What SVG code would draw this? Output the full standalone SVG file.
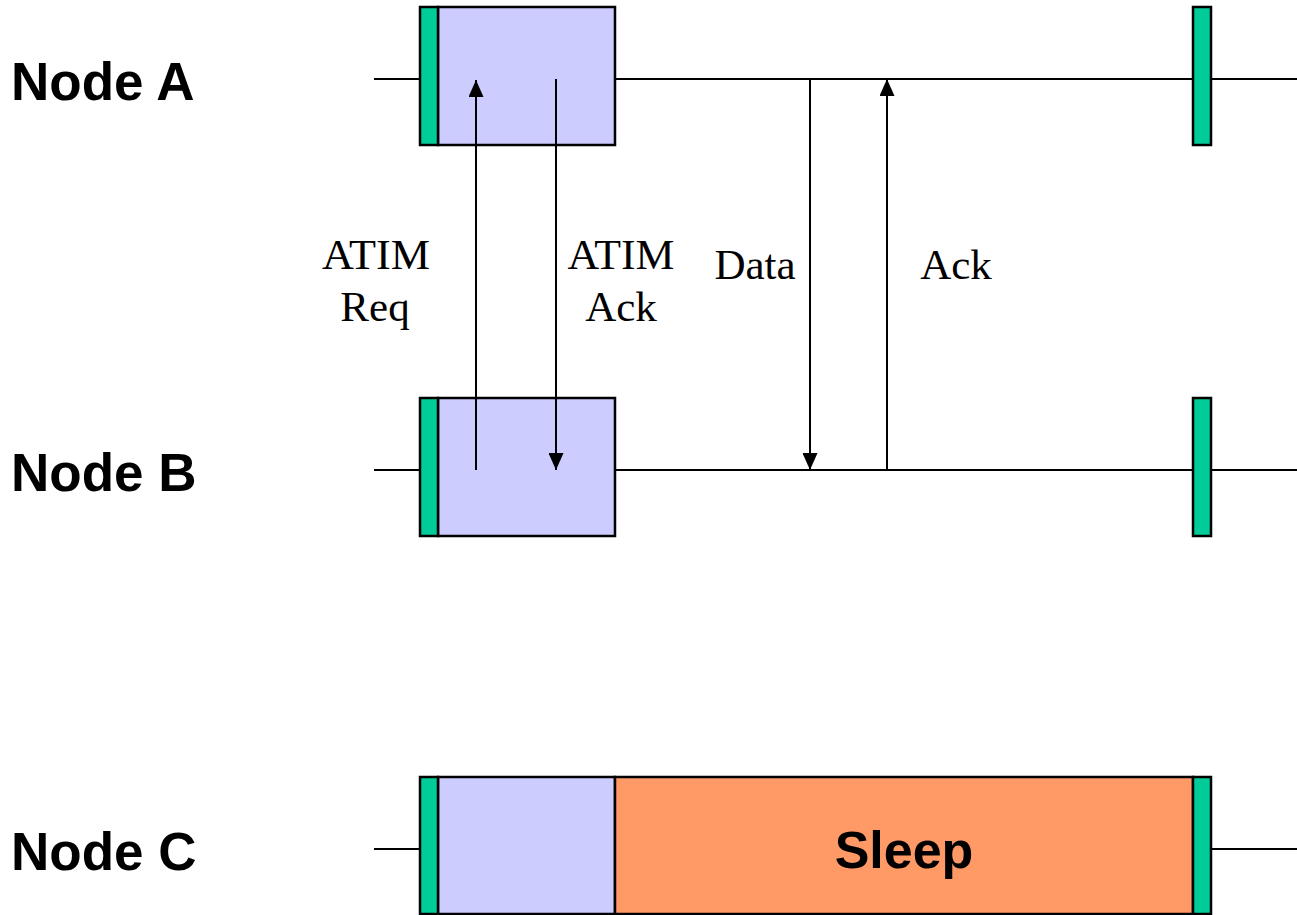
<svg xmlns="http://www.w3.org/2000/svg" width="1297" height="915" viewBox="0 0 1297 915">
<defs>
<style>
.tl{stroke:#000;stroke-width:2;fill:none}
.g{fill:#00CC99;stroke:#000;stroke-width:2.5}
.p{fill:#CCCCFF;stroke:#000;stroke-width:2.5}
.o{fill:#FF9966;stroke:#000;stroke-width:2.5}
.nl{font-family:"Liberation Sans",Arial,sans-serif;font-weight:bold;font-size:53px;fill:#000}
.sl{font-family:"Liberation Sans",Arial,sans-serif;font-weight:bold;font-size:52px;fill:#000}
.ml{font-family:"Liberation Serif","Times New Roman",serif;font-size:43px;fill:#000}
.ar{stroke:#000;stroke-width:2;fill:none;marker-end:url(#ah)}
</style>
<marker id="ah" viewBox="0 0 17 15" refX="17" refY="7.5" markerWidth="17" markerHeight="15" markerUnits="userSpaceOnUse" orient="auto">
<path d="M0,0 L17,7.5 L0,15 Z" fill="#000"/>
</marker>
</defs>
<g id="timelines">
<line class="tl" x1="374" y1="79" x2="1297" y2="79"/>
<line class="tl" x1="374" y1="470" x2="1297" y2="470"/>
<line class="tl" x1="374" y1="849" x2="1297" y2="849"/>
</g>
<g id="nodeA">
<text class="nl" x="11" y="100">Node A</text>
<rect class="p" x="438" y="7" width="177" height="138"/>
<rect class="g" x="420" y="7" width="18" height="138"/>
<rect class="g" x="1193" y="7" width="18" height="138"/>
</g>
<g id="nodeB">
<text class="nl" x="11" y="491">Node B</text>
<rect class="p" x="438" y="398" width="177" height="138"/>
<rect class="g" x="420" y="398" width="18" height="138"/>
<rect class="g" x="1193" y="398" width="18" height="138"/>
</g>
<g id="nodeC">
<text class="nl" x="11" y="870">Node C</text>
<rect class="p" x="438" y="777" width="177" height="137"/>
<rect class="o" x="615" y="777" width="578" height="137"/>
<rect class="g" x="420" y="777" width="18" height="137"/>
<rect class="g" x="1193" y="777" width="18" height="137"/>
<text class="sl" x="904" y="868" text-anchor="middle">Sleep</text>
</g>
<g id="connectors">
<path class="ar" d="M476,470 V80"/>
<path class="ar" d="M556,79 V470"/>
<path class="ar" d="M810,79 V470"/>
<path class="ar" d="M887,470 V79"/>
</g>
<g id="labels">
<text class="ml" x="376" y="269" text-anchor="middle" textLength="108" lengthAdjust="spacingAndGlyphs">ATIM</text>
<text class="ml" x="375" y="321" text-anchor="middle">Req</text>
<text class="ml" x="621" y="269" text-anchor="middle" textLength="107" lengthAdjust="spacingAndGlyphs">ATIM</text>
<text class="ml" x="621" y="321" text-anchor="middle">Ack</text>
<text class="ml" x="755" y="279" text-anchor="middle">Data</text>
<text class="ml" x="956" y="279" text-anchor="middle">Ack</text>
</g>
</svg>
